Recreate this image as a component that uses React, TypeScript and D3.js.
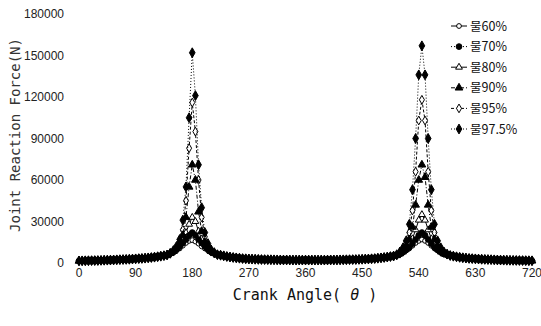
import React from "react";
import * as d3 from "d3";

// crank angle grids (deg)
const baseAnglesA = [0, 5, 10, 15, 20, 25, 30, 35, 40, 45, 50, 55, 60, 65, 70, 75, 80, 85, 90, 95, 100, 105, 110, 115, 120, 125, 130, 135, 140];
const peakAnglesA = [145, 150, 155, 160, 165, 170, 175, 180, 185, 190, 195, 200, 205, 210, 215, 220];
const baseAnglesB = [225, 230, 235, 240, 245, 250, 255, 260, 265, 270, 275, 280, 285, 290, 295, 300, 305, 310, 315, 320,
  325, 330, 335, 340, 345, 350, 355, 360, 365, 370, 375, 380, 385, 390, 395, 400, 405, 410, 415, 420,
  425, 430, 435, 440, 445, 450, 455, 460, 465, 470, 475, 480, 485, 490, 495, 500];
const peakAnglesB = [505, 510, 515, 520, 525, 530, 535, 540, 545, 550, 555, 560, 565, 570, 575, 580, 585];
const baseAnglesC = [590, 595, 600, 605, 610, 615, 620, 625, 630, 635, 640, 645, 650, 655, 660, 665, 670, 675, 680, 685,
  690, 695, 700, 705, 710, 715, 720];

// off-peak force, all series sit on top of each other here
const baseForceA = [1500, 1550, 1600, 1650, 1700, 1750, 1800, 1900, 2000, 2050, 2100, 2200, 2300, 2400, 2500, 2600, 2700, 2850,
  3000, 3150, 3300, 3500, 3700, 3950, 4200, 4550, 4900, 5300, 5800];
const baseForceB = [5600, 5200, 4700, 4300, 4000, 3700, 3450, 3200, 3050, 2900,
  2800, 2700, 2600, 2500, 2450, 2400, 2350, 2300, 2250, 2200,
  2200, 2200, 2150, 2100, 2100, 2100, 2100, 2100, 2100, 2100,
  2100, 2100, 2100, 2100, 2150, 2200, 2200, 2200, 2250, 2300,
  2350, 2400, 2450, 2500, 2600, 2700, 2800, 2900, 3050, 3200,
  3450, 3700, 4000, 4300, 4650, 5000];
const baseForceC = [5400, 4900, 4500, 4100, 3800, 3550, 3300, 3150, 3000, 2850,
  2700, 2600, 2500, 2400, 2300, 2200, 2100, 2050, 2000, 1950,
  1900, 1850, 1800, 1750, 1700, 1650, 1600];

// peak windows per water content
const w60A = [6500, 7500, 9000, 10500, 12500, 14500, 16000, 16500, 15500, 14000, 12000, 10500, 9000, 7500, 6500, 5800];
const w70A = [7000, 8000, 10000, 12000, 14500, 17000, 20000, 22000, 20000, 17000, 14500, 12000, 10000, 8000, 7000, 6000];
const w80A = [7000, 8500, 10500, 13000, 17000, 22000, 28000, 33000, 30000, 23000, 17500, 13500, 10500, 8500, 7000, 6000];
const w90A = [7000, 8500, 11000, 14000, 20000, 33000, 55000, 71000, 60000, 37000, 23000, 15000, 11000, 8500, 7000, 6000];
const w95A = [7000, 8500, 11000, 15000, 24000, 45000, 83000, 116000, 95000, 60000, 33000, 19000, 12500, 9000, 7000, 6000];
const w975A = [7000, 9000, 12000, 17000, 31000, 55000, 105000, 152000, 121000, 71000, 40000, 22000, 14000, 9500, 7500, 6000];

const w60B = [5500, 6500, 7500, 9000, 10500, 12500, 14500, 16000, 17000, 16000, 14500, 12500, 10500, 9000, 7500, 6500, 6000];
const w70B = [5500, 6500, 8000, 9500, 11500, 14000, 17000, 20000, 22000, 20000, 17000, 14000, 11500, 9500, 8000, 6500, 6000];
const w80B = [5500, 6500, 8000, 10000, 13000, 17500, 24000, 31000, 35000, 31000, 24000, 17500, 13000, 10000, 8000, 6500, 6000];
const w90B = [5500, 7000, 9000, 12000, 17000, 26000, 42000, 60000, 71000, 62000, 42000, 26000, 17000, 12000, 9000, 7000, 6000];
const w95B = [5500, 7500, 10000, 14000, 22000, 38000, 66000, 103000, 118000, 103000, 66000, 38000, 22000, 14000, 10000, 7500, 6000];
const w975B = [6000, 8000, 11000, 16000, 28000, 53000, 90000, 136000, 157000, 136000, 90000, 53000, 28000, 16000, 11000, 8000, 6500];

const seriesNames = ["물60%", "물70%", "물80%", "물90%", "물95%", "물97.5%"];
const xTicks = [0, 90, 180, 270, 360, 450, 540, 630, 720];
const yTicks = [0, 30000, 60000, 90000, 120000, 150000, 180000];

const W = 541, H = 326;
const x = d3.scaleLinear().domain([0, 720]).range([79, 532]);
const y = d3.scaleLinear().domain([0, 180000]).range([263, 14]);

const zip = (a: number[], v: number[]) => a.map((ang, i) => [ang, v[i]] as [number, number]);
const build = (pa: number[], pb: number[]) => [
  ...zip(baseAnglesA, baseForceA),
  ...zip(peakAnglesA, pa),
  ...zip(baseAnglesB, baseForceB),
  ...zip(peakAnglesB, pb),
  ...zip(baseAnglesC, baseForceC),
];

const styles = [
  { sym: d3.symbolCircle, size: 18, filled: false, dash: "none" },
  { sym: d3.symbolCircle, size: 26, filled: true, dash: "1,2" },
  { sym: d3.symbolTriangle, size: 20, filled: false, dash: "none" },
  { sym: d3.symbolTriangle, size: 26, filled: true, dash: "4,2,1,2" },
  { sym: d3.symbolDiamond, size: 22, filled: false, dash: "3,2" },
  { sym: d3.symbolDiamond, size: 28, filled: true, dash: "1,2" },
];

const series = [
  build(w60A, w60B),
  build(w70A, w70B),
  build(w80A, w80B),
  build(w90A, w90B),
  build(w95A, w95B),
  build(w975A, w975B),
].map((pts, i) => ({ name: seriesNames[i], pts, ...styles[i] }));

// open markers underneath, filled ones on top
const drawOrder = [0, 2, 4, 1, 3, 5];

const line = d3.line<[number, number]>().x(d => x(d[0])).y(d => y(d[1]));

export default function App() {
  const mono = "'DejaVu Sans Mono', monospace";
  const sans = "'Liberation Sans', Arial, sans-serif";
  return (
    <svg width={W} height={H} style={{ position: "absolute", left: 0, top: 0, background: "#fff" }}>
      {yTicks.map(t => (
        <text key={t} x={64} y={y(t)} dy="0.35em" textAnchor="end" fontFamily={sans} fontSize={12} fill="#222">
          {t}
        </text>
      ))}
      {xTicks.map(t => (
        <text key={t} x={x(t)} y={277} textAnchor="middle" fontFamily={sans} fontSize={12} fill="#222">
          {t}
        </text>
      ))}
      <text x={305} y={300} textAnchor="middle" fontFamily={mono} fontSize={15} fill="#111">
        Crank Angle( <tspan fontStyle="italic">θ</tspan> )
      </text>
      <text transform="translate(15,135) rotate(-90)" textAnchor="middle" dy="0.35em" fontFamily={mono} fontSize={14} fill="#333">
        Joint Reaction Force(N)
      </text>

      {drawOrder.map(k => series[k]).map(s => (
        <g key={s.name}>
          <path d={line(s.pts) || ""} fill="none" stroke="#000" strokeWidth={1} strokeDasharray={s.dash} />
          {s.pts.map((p, j) => (
            <path
              key={j}
              transform={`translate(${x(p[0])},${y(p[1])})`}
              d={d3.symbol(s.sym, s.size)() || ""}
              fill={s.filled ? "#000" : "#fff"}
              stroke="#000"
              strokeWidth={1}
            />
          ))}
        </g>
      ))}

      {/* legend */}
      {series.map((s, i) => {
        const ly = 26 + i * 20.6;
        return (
          <g key={s.name}>
            <line x1={451} x2={467} y1={ly} y2={ly} stroke="#000" strokeWidth={1} strokeDasharray={s.dash} />
            <path transform={`translate(459,${ly})`} d={d3.symbol(s.sym, s.size)() || ""} fill={s.filled ? "#000" : "#fff"} stroke="#000" />
            <text x={470} y={ly} dy="0.36em" fontFamily="'Noto Sans CJK KR', 'Liberation Sans', sans-serif" fontSize={12.5} fill="#111">
              {s.name}
            </text>
          </g>
        );
      })}
    </svg>
  );
}
